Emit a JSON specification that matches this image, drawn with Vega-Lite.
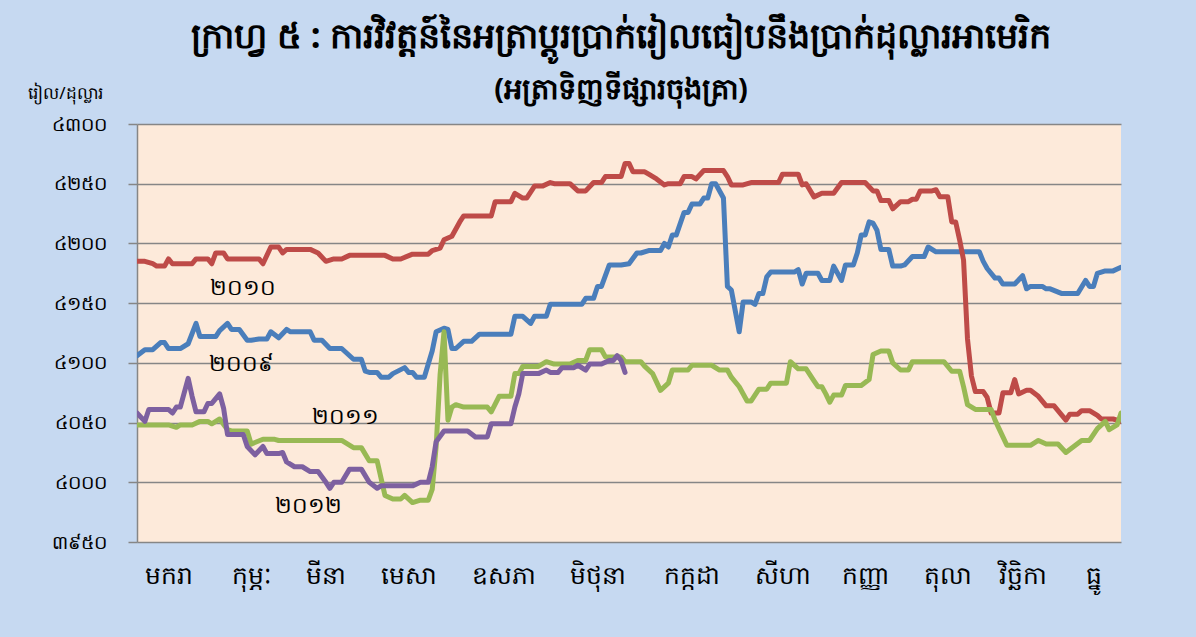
{
  "$schema": "https://vega.github.io/schema/vega-lite/v6.json",
  "width": 984,
  "height": 418,
  "autosize": {"type": "none"},
  "padding": {"left": 137, "top": 124, "right": 75, "bottom": 95},
  "background": "#c6d9f1",
  "title": {
    "text": "ក្រាហ្វ ៥ : ការវិវត្តន៍នៃអត្រាប្តូរប្រាក់រៀលធៀបនឹងប្រាក់ដុល្លារអាមេរិក",
    "subtitle": "(អត្រាទិញទីផ្សារចុងគ្រា)",
    "anchor": "middle",
    "dx": -8,
    "offset": -21,
    "fontSize": 35,
    "fontWeight": "bold",
    "color": "#000000",
    "subtitleFontSize": 29,
    "subtitleFontWeight": "bold",
    "subtitleColor": "#000000",
    "subtitlePadding": 21,
    "font": "Noto Sans",
    "subtitleFont": "Noto Sans"
  },
  "datasets": {
    "rates": [
      {"year": "2009", "t": 0, "v": 4106}, {"year": "2009", "t": 2, "v": 4111}, {"year": "2009", "t": 4, "v": 4111}, {"year": "2009", "t": 6, "v": 4117}, {"year": "2009", "t": 7, "v": 4117}, {"year": "2009", "t": 8, "v": 4112}, {"year": "2009", "t": 11, "v": 4112}, {"year": "2009", "t": 13, "v": 4116}, {"year": "2009", "t": 15, "v": 4133}, {"year": "2009", "t": 16, "v": 4122}, {"year": "2009", "t": 20, "v": 4122}, {"year": "2009", "t": 21, "v": 4127}, {"year": "2009", "t": 23, "v": 4133}, {"year": "2009", "t": 24, "v": 4128}, {"year": "2009", "t": 26, "v": 4128}, {"year": "2009", "t": 28, "v": 4119}, {"year": "2009", "t": 29, "v": 4119}, {"year": "2009", "t": 31, "v": 4120}, {"year": "2009", "t": 33, "v": 4120}, {"year": "2009", "t": 34, "v": 4126}, {"year": "2009", "t": 36, "v": 4121}, {"year": "2009", "t": 38, "v": 4128}, {"year": "2009", "t": 39, "v": 4126}, {"year": "2009", "t": 44, "v": 4126}, {"year": "2009", "t": 45, "v": 4119}, {"year": "2009", "t": 47, "v": 4119}, {"year": "2009", "t": 49, "v": 4112}, {"year": "2009", "t": 52, "v": 4112}, {"year": "2009", "t": 55, "v": 4103}, {"year": "2009", "t": 57, "v": 4103}, {"year": "2009", "t": 58, "v": 4093}, {"year": "2009", "t": 59, "v": 4092}, {"year": "2009", "t": 61, "v": 4092}, {"year": "2009", "t": 62, "v": 4088}, {"year": "2009", "t": 64, "v": 4088}, {"year": "2009", "t": 65, "v": 4091}, {"year": "2009", "t": 68, "v": 4096}, {"year": "2009", "t": 69, "v": 4092}, {"year": "2009", "t": 70, "v": 4092}, {"year": "2009", "t": 71, "v": 4088}, {"year": "2009", "t": 73, "v": 4088}, {"year": "2009", "t": 74, "v": 4099}, {"year": "2009", "t": 75, "v": 4110}, {"year": "2009", "t": 76, "v": 4126}, {"year": "2009", "t": 78, "v": 4129}, {"year": "2009", "t": 79, "v": 4128}, {"year": "2009", "t": 80, "v": 4112}, {"year": "2009", "t": 81, "v": 4112}, {"year": "2009", "t": 83, "v": 4118}, {"year": "2009", "t": 85, "v": 4118}, {"year": "2009", "t": 87, "v": 4124}, {"year": "2009", "t": 95, "v": 4124}, {"year": "2009", "t": 96, "v": 4139}, {"year": "2009", "t": 98, "v": 4139}, {"year": "2009", "t": 100, "v": 4133}, {"year": "2009", "t": 101, "v": 4139}, {"year": "2009", "t": 104, "v": 4139}, {"year": "2009", "t": 105, "v": 4149}, {"year": "2009", "t": 113, "v": 4149}, {"year": "2009", "t": 114, "v": 4154}, {"year": "2009", "t": 116, "v": 4154}, {"year": "2009", "t": 117, "v": 4164}, {"year": "2009", "t": 118, "v": 4164}, {"year": "2009", "t": 120, "v": 4182}, {"year": "2009", "t": 123, "v": 4182}, {"year": "2009", "t": 125, "v": 4183}, {"year": "2009", "t": 127, "v": 4192}, {"year": "2009", "t": 128, "v": 4192}, {"year": "2009", "t": 130, "v": 4194}, {"year": "2009", "t": 133, "v": 4194}, {"year": "2009", "t": 134, "v": 4200}, {"year": "2009", "t": 135, "v": 4197}, {"year": "2009", "t": 136, "v": 4207}, {"year": "2009", "t": 137, "v": 4207}, {"year": "2009", "t": 139, "v": 4226}, {"year": "2009", "t": 140, "v": 4226}, {"year": "2009", "t": 141, "v": 4233}, {"year": "2009", "t": 143, "v": 4233}, {"year": "2009", "t": 144, "v": 4238}, {"year": "2009", "t": 145, "v": 4238}, {"year": "2009", "t": 146, "v": 4250}, {"year": "2009", "t": 147, "v": 4250}, {"year": "2009", "t": 149, "v": 4238}, {"year": "2009", "t": 150, "v": 4164}, {"year": "2009", "t": 151, "v": 4161}, {"year": "2009", "t": 153, "v": 4126}, {"year": "2009", "t": 154, "v": 4151}, {"year": "2009", "t": 156, "v": 4151}, {"year": "2009", "t": 157, "v": 4149}, {"year": "2009", "t": 158, "v": 4158}, {"year": "2009", "t": 159, "v": 4158}, {"year": "2009", "t": 160, "v": 4172}, {"year": "2009", "t": 161, "v": 4176}, {"year": "2009", "t": 167, "v": 4176}, {"year": "2009", "t": 168, "v": 4178}, {"year": "2009", "t": 169, "v": 4166}, {"year": "2009", "t": 170, "v": 4175}, {"year": "2009", "t": 173, "v": 4175}, {"year": "2009", "t": 174, "v": 4169}, {"year": "2009", "t": 176, "v": 4169}, {"year": "2009", "t": 177, "v": 4181}, {"year": "2009", "t": 179, "v": 4169}, {"year": "2009", "t": 180, "v": 4182}, {"year": "2009", "t": 182, "v": 4182}, {"year": "2009", "t": 183, "v": 4192}, {"year": "2009", "t": 184, "v": 4207}, {"year": "2009", "t": 185, "v": 4207}, {"year": "2009", "t": 186, "v": 4218}, {"year": "2009", "t": 187, "v": 4217}, {"year": "2009", "t": 188, "v": 4211}, {"year": "2009", "t": 189, "v": 4195}, {"year": "2009", "t": 191, "v": 4195}, {"year": "2009", "t": 192, "v": 4181}, {"year": "2009", "t": 194, "v": 4181}, {"year": "2009", "t": 195, "v": 4182}, {"year": "2009", "t": 197, "v": 4189}, {"year": "2009", "t": 200, "v": 4189}, {"year": "2009", "t": 201, "v": 4197}, {"year": "2009", "t": 203, "v": 4193}, {"year": "2009", "t": 214, "v": 4193}, {"year": "2009", "t": 215, "v": 4185}, {"year": "2009", "t": 216, "v": 4179}, {"year": "2009", "t": 218, "v": 4171}, {"year": "2009", "t": 219, "v": 4171}, {"year": "2009", "t": 220, "v": 4166}, {"year": "2009", "t": 223, "v": 4166}, {"year": "2009", "t": 225, "v": 4173}, {"year": "2009", "t": 226, "v": 4162}, {"year": "2009", "t": 227, "v": 4164}, {"year": "2009", "t": 230, "v": 4164}, {"year": "2009", "t": 231, "v": 4162}, {"year": "2009", "t": 232, "v": 4162}, {"year": "2009", "t": 235, "v": 4158}, {"year": "2009", "t": 239, "v": 4158}, {"year": "2009", "t": 241, "v": 4169}, {"year": "2009", "t": 242, "v": 4164}, {"year": "2009", "t": 243, "v": 4164}, {"year": "2009", "t": 244, "v": 4175}, {"year": "2009", "t": 246, "v": 4177}, {"year": "2009", "t": 248, "v": 4177}, {"year": "2009", "t": 250, "v": 4180},

      {"year": "2010", "t": 0, "v": 4185}, {"year": "2010", "t": 2, "v": 4185}, {"year": "2010", "t": 4, "v": 4183}, {"year": "2010", "t": 5, "v": 4181}, {"year": "2010", "t": 7, "v": 4181}, {"year": "2010", "t": 8, "v": 4187}, {"year": "2010", "t": 9, "v": 4183}, {"year": "2010", "t": 14, "v": 4183}, {"year": "2010", "t": 15, "v": 4187}, {"year": "2010", "t": 18, "v": 4187}, {"year": "2010", "t": 19, "v": 4183}, {"year": "2010", "t": 20, "v": 4192}, {"year": "2010", "t": 22, "v": 4192}, {"year": "2010", "t": 23, "v": 4187}, {"year": "2010", "t": 31, "v": 4187}, {"year": "2010", "t": 32, "v": 4183}, {"year": "2010", "t": 34, "v": 4197}, {"year": "2010", "t": 36, "v": 4197}, {"year": "2010", "t": 37, "v": 4192}, {"year": "2010", "t": 38, "v": 4195}, {"year": "2010", "t": 44, "v": 4195}, {"year": "2010", "t": 46, "v": 4192}, {"year": "2010", "t": 48, "v": 4185}, {"year": "2010", "t": 50, "v": 4187}, {"year": "2010", "t": 52, "v": 4187}, {"year": "2010", "t": 54, "v": 4190}, {"year": "2010", "t": 63, "v": 4190}, {"year": "2010", "t": 65, "v": 4187}, {"year": "2010", "t": 67, "v": 4187}, {"year": "2010", "t": 70, "v": 4191}, {"year": "2010", "t": 74, "v": 4191}, {"year": "2010", "t": 75, "v": 4194}, {"year": "2010", "t": 77, "v": 4196}, {"year": "2010", "t": 78, "v": 4203}, {"year": "2010", "t": 80, "v": 4206}, {"year": "2010", "t": 82, "v": 4218}, {"year": "2010", "t": 83, "v": 4223}, {"year": "2010", "t": 90, "v": 4223}, {"year": "2010", "t": 91, "v": 4235}, {"year": "2010", "t": 95, "v": 4235}, {"year": "2010", "t": 96, "v": 4242}, {"year": "2010", "t": 98, "v": 4238}, {"year": "2010", "t": 99, "v": 4238}, {"year": "2010", "t": 101, "v": 4248}, {"year": "2010", "t": 103, "v": 4248}, {"year": "2010", "t": 105, "v": 4251}, {"year": "2010", "t": 106, "v": 4250}, {"year": "2010", "t": 110, "v": 4250}, {"year": "2010", "t": 112, "v": 4244}, {"year": "2010", "t": 114, "v": 4244}, {"year": "2010", "t": 116, "v": 4251}, {"year": "2010", "t": 118, "v": 4251}, {"year": "2010", "t": 119, "v": 4256}, {"year": "2010", "t": 123, "v": 4256}, {"year": "2010", "t": 124, "v": 4267}, {"year": "2010", "t": 125, "v": 4267}, {"year": "2010", "t": 126, "v": 4260}, {"year": "2010", "t": 129, "v": 4260}, {"year": "2010", "t": 130, "v": 4258}, {"year": "2010", "t": 132, "v": 4254}, {"year": "2010", "t": 134, "v": 4249}, {"year": "2010", "t": 135, "v": 4250}, {"year": "2010", "t": 138, "v": 4250}, {"year": "2010", "t": 139, "v": 4256}, {"year": "2010", "t": 141, "v": 4256}, {"year": "2010", "t": 142, "v": 4254}, {"year": "2010", "t": 144, "v": 4261}, {"year": "2010", "t": 149, "v": 4261}, {"year": "2010", "t": 150, "v": 4256}, {"year": "2010", "t": 151, "v": 4249}, {"year": "2010", "t": 154, "v": 4249}, {"year": "2010", "t": 156, "v": 4251}, {"year": "2010", "t": 163, "v": 4251}, {"year": "2010", "t": 164, "v": 4258}, {"year": "2010", "t": 168, "v": 4258}, {"year": "2010", "t": 169, "v": 4249}, {"year": "2010", "t": 170, "v": 4250}, {"year": "2010", "t": 172, "v": 4239}, {"year": "2010", "t": 174, "v": 4242}, {"year": "2010", "t": 177, "v": 4242}, {"year": "2010", "t": 179, "v": 4251}, {"year": "2010", "t": 185, "v": 4251}, {"year": "2010", "t": 187, "v": 4244}, {"year": "2010", "t": 188, "v": 4244}, {"year": "2010", "t": 189, "v": 4236}, {"year": "2010", "t": 191, "v": 4236}, {"year": "2010", "t": 192, "v": 4229}, {"year": "2010", "t": 194, "v": 4235}, {"year": "2010", "t": 196, "v": 4235}, {"year": "2010", "t": 197, "v": 4237}, {"year": "2010", "t": 198, "v": 4237}, {"year": "2010", "t": 199, "v": 4244}, {"year": "2010", "t": 202, "v": 4244}, {"year": "2010", "t": 203, "v": 4245}, {"year": "2010", "t": 204, "v": 4239}, {"year": "2010", "t": 206, "v": 4239}, {"year": "2010", "t": 207, "v": 4218}, {"year": "2010", "t": 208, "v": 4218}, {"year": "2010", "t": 209, "v": 4203}, {"year": "2010", "t": 210, "v": 4186}, {"year": "2010", "t": 211, "v": 4120}, {"year": "2010", "t": 212, "v": 4089}, {"year": "2010", "t": 213, "v": 4076}, {"year": "2010", "t": 215, "v": 4076}, {"year": "2010", "t": 216, "v": 4071}, {"year": "2010", "t": 217, "v": 4058}, {"year": "2010", "t": 219, "v": 4058}, {"year": "2010", "t": 220, "v": 4075}, {"year": "2010", "t": 222, "v": 4075}, {"year": "2010", "t": 223, "v": 4086}, {"year": "2010", "t": 224, "v": 4074}, {"year": "2010", "t": 226, "v": 4077}, {"year": "2010", "t": 227, "v": 4077}, {"year": "2010", "t": 229, "v": 4072}, {"year": "2010", "t": 231, "v": 4064}, {"year": "2010", "t": 233, "v": 4064}, {"year": "2010", "t": 235, "v": 4056}, {"year": "2010", "t": 236, "v": 4052}, {"year": "2010", "t": 237, "v": 4057}, {"year": "2010", "t": 239, "v": 4057}, {"year": "2010", "t": 240, "v": 4060}, {"year": "2010", "t": 242, "v": 4060}, {"year": "2010", "t": 244, "v": 4056}, {"year": "2010", "t": 245, "v": 4053}, {"year": "2010", "t": 248, "v": 4053}, {"year": "2010", "t": 250, "v": 4051},

      {"year": "2011", "t": 0, "v": 4048}, {"year": "2011", "t": 8, "v": 4048}, {"year": "2011", "t": 10, "v": 4046}, {"year": "2011", "t": 11, "v": 4048}, {"year": "2011", "t": 14, "v": 4048}, {"year": "2011", "t": 16, "v": 4051}, {"year": "2011", "t": 18, "v": 4051}, {"year": "2011", "t": 19, "v": 4049}, {"year": "2011", "t": 21, "v": 4053}, {"year": "2011", "t": 23, "v": 4044}, {"year": "2011", "t": 24, "v": 4043}, {"year": "2011", "t": 28, "v": 4043}, {"year": "2011", "t": 29, "v": 4032}, {"year": "2011", "t": 32, "v": 4036}, {"year": "2011", "t": 35, "v": 4036}, {"year": "2011", "t": 36, "v": 4035}, {"year": "2011", "t": 52, "v": 4035}, {"year": "2011", "t": 55, "v": 4029}, {"year": "2011", "t": 57, "v": 4029}, {"year": "2011", "t": 59, "v": 4018}, {"year": "2011", "t": 61, "v": 4018}, {"year": "2011", "t": 63, "v": 3989}, {"year": "2011", "t": 65, "v": 3986}, {"year": "2011", "t": 67, "v": 3986}, {"year": "2011", "t": 68, "v": 3989}, {"year": "2011", "t": 70, "v": 3983}, {"year": "2011", "t": 72, "v": 3985}, {"year": "2011", "t": 74, "v": 3985}, {"year": "2011", "t": 75, "v": 3994}, {"year": "2011", "t": 76, "v": 4030}, {"year": "2011", "t": 77, "v": 4090}, {"year": "2011", "t": 78, "v": 4126}, {"year": "2011", "t": 79, "v": 4052}, {"year": "2011", "t": 80, "v": 4063}, {"year": "2011", "t": 81, "v": 4065}, {"year": "2011", "t": 83, "v": 4063}, {"year": "2011", "t": 89, "v": 4063}, {"year": "2011", "t": 90, "v": 4059}, {"year": "2011", "t": 92, "v": 4072}, {"year": "2011", "t": 95, "v": 4072}, {"year": "2011", "t": 96, "v": 4091}, {"year": "2011", "t": 97, "v": 4091}, {"year": "2011", "t": 98, "v": 4097}, {"year": "2011", "t": 102, "v": 4097}, {"year": "2011", "t": 104, "v": 4101}, {"year": "2011", "t": 106, "v": 4099}, {"year": "2011", "t": 110, "v": 4099}, {"year": "2011", "t": 112, "v": 4102}, {"year": "2011", "t": 114, "v": 4102}, {"year": "2011", "t": 115, "v": 4111}, {"year": "2011", "t": 118, "v": 4111}, {"year": "2011", "t": 119, "v": 4105}, {"year": "2011", "t": 123, "v": 4105}, {"year": "2011", "t": 124, "v": 4101}, {"year": "2011", "t": 128, "v": 4101}, {"year": "2011", "t": 129, "v": 4097}, {"year": "2011", "t": 131, "v": 4091}, {"year": "2011", "t": 133, "v": 4077}, {"year": "2011", "t": 135, "v": 4083}, {"year": "2011", "t": 136, "v": 4094}, {"year": "2011", "t": 140, "v": 4094}, {"year": "2011", "t": 141, "v": 4098}, {"year": "2011", "t": 146, "v": 4098}, {"year": "2011", "t": 148, "v": 4094}, {"year": "2011", "t": 150, "v": 4094}, {"year": "2011", "t": 151, "v": 4088}, {"year": "2011", "t": 153, "v": 4080}, {"year": "2011", "t": 155, "v": 4068}, {"year": "2011", "t": 156, "v": 4068}, {"year": "2011", "t": 158, "v": 4078}, {"year": "2011", "t": 160, "v": 4078}, {"year": "2011", "t": 161, "v": 4083}, {"year": "2011", "t": 165, "v": 4083}, {"year": "2011", "t": 166, "v": 4101}, {"year": "2011", "t": 168, "v": 4095}, {"year": "2011", "t": 170, "v": 4095}, {"year": "2011", "t": 172, "v": 4085}, {"year": "2011", "t": 173, "v": 4080}, {"year": "2011", "t": 174, "v": 4080}, {"year": "2011", "t": 175, "v": 4074}, {"year": "2011", "t": 176, "v": 4067}, {"year": "2011", "t": 177, "v": 4073}, {"year": "2011", "t": 179, "v": 4073}, {"year": "2011", "t": 180, "v": 4081}, {"year": "2011", "t": 184, "v": 4081}, {"year": "2011", "t": 186, "v": 4086}, {"year": "2011", "t": 187, "v": 4107}, {"year": "2011", "t": 189, "v": 4110}, {"year": "2011", "t": 191, "v": 4110}, {"year": "2011", "t": 192, "v": 4100}, {"year": "2011", "t": 194, "v": 4094}, {"year": "2011", "t": 196, "v": 4094}, {"year": "2011", "t": 197, "v": 4101}, {"year": "2011", "t": 205, "v": 4101}, {"year": "2011", "t": 207, "v": 4093}, {"year": "2011", "t": 209, "v": 4093}, {"year": "2011", "t": 210, "v": 4080}, {"year": "2011", "t": 211, "v": 4065}, {"year": "2011", "t": 213, "v": 4061}, {"year": "2011", "t": 217, "v": 4061}, {"year": "2011", "t": 218, "v": 4052}, {"year": "2011", "t": 220, "v": 4038}, {"year": "2011", "t": 221, "v": 4031}, {"year": "2011", "t": 227, "v": 4031}, {"year": "2011", "t": 229, "v": 4035}, {"year": "2011", "t": 231, "v": 4032}, {"year": "2011", "t": 234, "v": 4032}, {"year": "2011", "t": 236, "v": 4025}, {"year": "2011", "t": 240, "v": 4035}, {"year": "2011", "t": 242, "v": 4035}, {"year": "2011", "t": 244, "v": 4045}, {"year": "2011", "t": 246, "v": 4051}, {"year": "2011", "t": 247, "v": 4044}, {"year": "2011", "t": 249, "v": 4048}, {"year": "2011", "t": 250, "v": 4058},

      {"year": "2012", "t": 0, "v": 4058}, {"year": "2012", "t": 2, "v": 4051}, {"year": "2012", "t": 3, "v": 4061}, {"year": "2012", "t": 8, "v": 4061}, {"year": "2012", "t": 9, "v": 4058}, {"year": "2012", "t": 10, "v": 4063}, {"year": "2012", "t": 11, "v": 4063}, {"year": "2012", "t": 13, "v": 4087}, {"year": "2012", "t": 14, "v": 4072}, {"year": "2012", "t": 15, "v": 4059}, {"year": "2012", "t": 17, "v": 4059}, {"year": "2012", "t": 18, "v": 4066}, {"year": "2012", "t": 19, "v": 4066}, {"year": "2012", "t": 21, "v": 4074}, {"year": "2012", "t": 22, "v": 4062}, {"year": "2012", "t": 23, "v": 4040}, {"year": "2012", "t": 27, "v": 4040}, {"year": "2012", "t": 28, "v": 4030}, {"year": "2012", "t": 30, "v": 4023}, {"year": "2012", "t": 32, "v": 4030}, {"year": "2012", "t": 33, "v": 4024}, {"year": "2012", "t": 36, "v": 4024}, {"year": "2012", "t": 37, "v": 4025}, {"year": "2012", "t": 38, "v": 4017}, {"year": "2012", "t": 40, "v": 4013}, {"year": "2012", "t": 42, "v": 4013}, {"year": "2012", "t": 44, "v": 4009}, {"year": "2012", "t": 46, "v": 4009}, {"year": "2012", "t": 48, "v": 4000}, {"year": "2012", "t": 49, "v": 3995}, {"year": "2012", "t": 50, "v": 4000}, {"year": "2012", "t": 52, "v": 4000}, {"year": "2012", "t": 54, "v": 4011}, {"year": "2012", "t": 57, "v": 4011}, {"year": "2012", "t": 59, "v": 4000}, {"year": "2012", "t": 61, "v": 3995}, {"year": "2012", "t": 62, "v": 3997}, {"year": "2012", "t": 70, "v": 3997}, {"year": "2012", "t": 72, "v": 4000}, {"year": "2012", "t": 74, "v": 4000}, {"year": "2012", "t": 75, "v": 4013}, {"year": "2012", "t": 76, "v": 4034}, {"year": "2012", "t": 78, "v": 4043}, {"year": "2012", "t": 84, "v": 4043}, {"year": "2012", "t": 86, "v": 4038}, {"year": "2012", "t": 89, "v": 4038}, {"year": "2012", "t": 90, "v": 4049}, {"year": "2012", "t": 95, "v": 4049}, {"year": "2012", "t": 96, "v": 4063}, {"year": "2012", "t": 97, "v": 4074}, {"year": "2012", "t": 98, "v": 4091}, {"year": "2012", "t": 102, "v": 4091}, {"year": "2012", "t": 104, "v": 4094}, {"year": "2012", "t": 105, "v": 4092}, {"year": "2012", "t": 107, "v": 4092}, {"year": "2012", "t": 108, "v": 4096}, {"year": "2012", "t": 111, "v": 4096}, {"year": "2012", "t": 112, "v": 4098}, {"year": "2012", "t": 114, "v": 4094}, {"year": "2012", "t": 115, "v": 4099}, {"year": "2012", "t": 118, "v": 4099}, {"year": "2012", "t": 120, "v": 4102}, {"year": "2012", "t": 121, "v": 4102}, {"year": "2012", "t": 122, "v": 4106}, {"year": "2012", "t": 123, "v": 4102}, {"year": "2012", "t": 124, "v": 4092}
    ],
    "labels": [
      {"label": "២០១០", "t": 27, "v": 4163},
      {"label": "២០០៩", "t": 26.5, "v": 4099},
      {"label": "២០១១", "t": 53, "v": 4055},
      {"label": "២០១២", "t": 43.5, "v": 3980}
    ]
  },
  "layer": [
    {
      "data": {"name": "rates"},
      "mark": {"type": "line", "strokeWidth": 5, "strokeJoin": "round", "strokeCap": "round", "clip": true},
      "encoding": {
        "x": {
          "field": "t",
          "type": "quantitative",
          "scale": {"domain": [0, 250], "nice": false, "zero": false},
          "axis": {
            "title": null,
            "grid": false,
            "ticks": false,
            "domain": false,
            "values": [8, 29, 48, 69, 93, 117, 141, 164, 185, 206, 225, 243],
            "labelExpr": "datum.value == 8 ? 'មករា' : datum.value == 29 ? 'កុម្ភៈ' : datum.value == 48 ? 'មីនា' : datum.value == 69 ? 'មេសា' : datum.value == 93 ? 'ឧសភា' : datum.value == 117 ? 'មិថុនា' : datum.value == 141 ? 'កក្កដា' : datum.value == 164 ? 'សីហា' : datum.value == 185 ? 'កញ្ញា' : datum.value == 206 ? 'តុលា' : datum.value == 225 ? 'វិច្ឆិកា' : 'ធ្នូ'",
            "labelFontSize": 25,
            "labelPadding": 21,
            "labelColor": "#000000",
            "labelFont": "Noto Sans",
            "labelFlush": false,
            "labelOverlap": false
          }
        },
        "y": {
          "field": "v",
          "type": "quantitative",
          "scale": {"domain": [3950, 4300], "nice": false, "zero": false},
          "axis": {
            "title": "រៀល/ដុល្លារ",
            "titleAngle": 0,
            "titleAlign": "center",
            "titleBaseline": "middle",
            "titleX": -72,
            "titleY": -31,
            "titleFontSize": 17,
            "titleFontWeight": "normal",
            "titleColor": "#000000",
            "titleFont": "Noto Sans",
            "values": [3950, 4000, 4050, 4100, 4150, 4200, 4250, 4300],
            "labelExpr": "datum.value == 3950 ? '៣៩៥០' : datum.value == 4000 ? '៤០០០' : datum.value == 4050 ? '៤០៥០' : datum.value == 4100 ? '៤១០០' : datum.value == 4150 ? '៤១៥០' : datum.value == 4200 ? '៤២០០' : datum.value == 4250 ? '៤២៥០' : '៤៣០០'",
            "labelFontSize": 19,
            "labelPadding": 22,
            "labelColor": "#000000",
            "labelFont": "Noto Sans",
            "tickSize": 9,
            "tickColor": "#868686",
            "tickWidth": 1.5,
            "domainColor": "#868686",
            "domainWidth": 1.5,
            "grid": true,
            "gridColor": "#868686",
            "gridWidth": 1.5
          }
        },
        "color": {
          "field": "year",
          "type": "nominal",
          "scale": {"domain": ["2009", "2010", "2011", "2012"], "range": ["#4a7ebb", "#be4b48", "#98b954", "#7d60a0"]},
          "legend": null
        }
      }
    },
    {
      "data": {"name": "labels"},
      "mark": {"type": "text", "fontSize": 22, "font": "Noto Sans", "color": "#000000", "align": "center", "baseline": "middle"},
      "encoding": {
        "x": {"field": "t", "type": "quantitative"},
        "y": {"field": "v", "type": "quantitative"},
        "text": {"field": "label"}
      }
    }
  ],
  "config": {
    "view": {"fill": "#fdeada", "stroke": null}
  }
}
